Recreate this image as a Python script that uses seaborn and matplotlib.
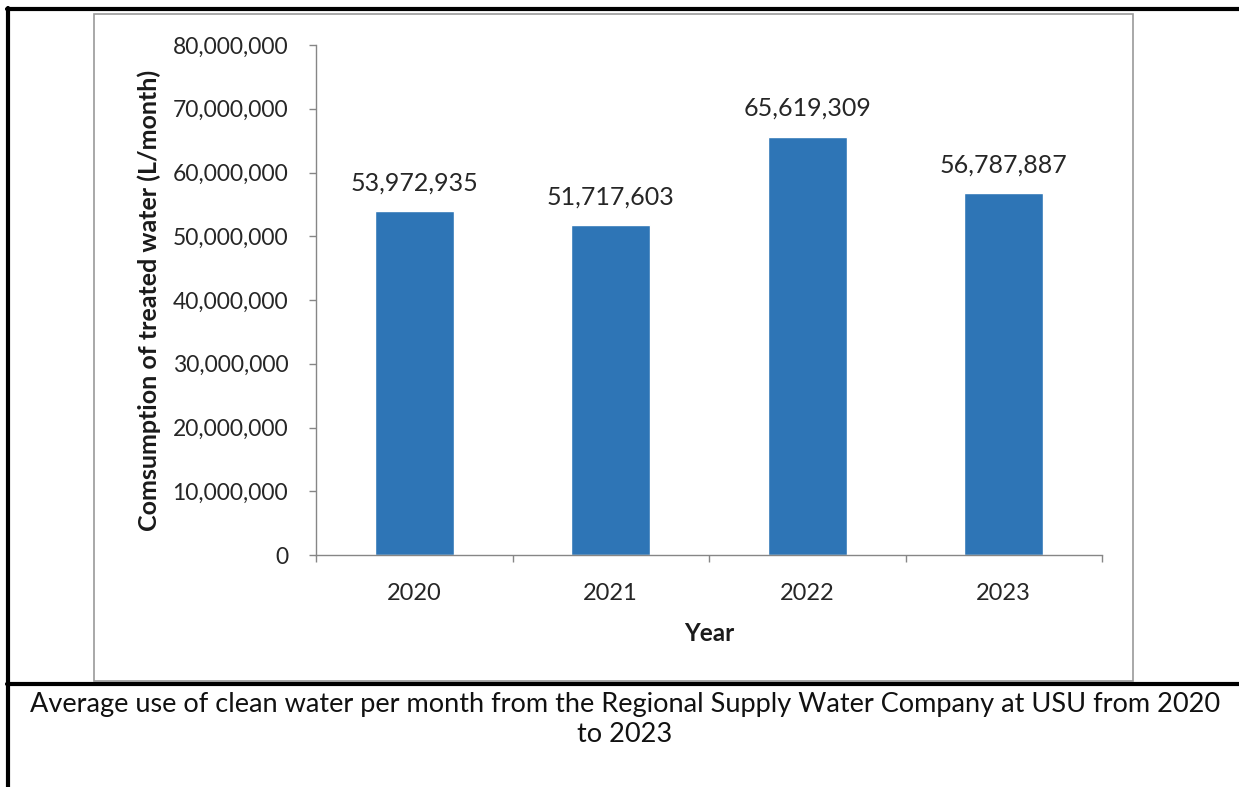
import matplotlib
matplotlib.use("Agg")
import matplotlib.pyplot as plt
import seaborn as sns
import pandas as pd
from matplotlib.lines import Line2D
from matplotlib.patches import Rectangle
from matplotlib.ticker import FuncFormatter, FixedLocator

years = ["2020", "2021", "2022", "2023"]
consumption = [53972935, 51717603, 65619309, 56787887]
y_ticks = [0, 10000000, 20000000, 30000000, 40000000, 50000000, 60000000, 70000000, 80000000]
caption = ("Average use of clean water per month from the Regional Supply Water Company at USU from 2020\n"
           "to 2023")

df = pd.DataFrame({"Year": years, "Consumption": consumption})

sns.set_style("white")
plt.rcParams["font.family"] = ["Lato", "DejaVu Sans"]

W, H = 1239, 787
fig = plt.figure(figsize=(W / 100, H / 100), dpi=100)


def fx(px):
    return px / W


def fy(py):
    return 1 - py / H


ax = fig.add_axes([fx(316), fy(555), fx(1102 - 316), (555 - 45) / H])

sns.barplot(data=df, x="Year", y="Consumption", color="#2E75B6",
            width=0.4, saturation=1, ax=ax)

ax.set_ylim(0, 80000000)
ax.set_xlim(-0.5, 3.5)
ax.set_yticks(y_ticks)
ax.yaxis.set_major_formatter(FuncFormatter(lambda v, p: f"{int(v):,}"))
ax.xaxis.set_minor_locator(FixedLocator([-0.5, 0.5, 1.5, 2.5, 3.5]))

grey = "#868686"
for s in ["top", "right"]:
    ax.spines[s].set_visible(False)
for s in ["left", "bottom"]:
    ax.spines[s].set_color(grey)
    ax.spines[s].set_linewidth(1)

ax.tick_params(axis="y", which="major", length=5, width=1, color=grey,
               labelsize=16.5, labelcolor="#262626", pad=15, left=True)
ax.tick_params(axis="x", which="major", length=0, labelsize=17,
               labelcolor="#262626", pad=20)
ax.tick_params(axis="x", which="minor", length=5, width=1, color=grey,
               bottom=True)

ax.set_xlabel("Year", fontsize=17.5, fontweight="bold", color="#1a1a1a", labelpad=13)
ax.set_ylabel("Comsumption of treated water (L/month)", fontsize=18,
              fontweight="bold", color="#1a1a1a", labelpad=8)

for i, v in enumerate(consumption):
    ax.annotate(f"{v:,}", (i, v), xytext=(0, 12), textcoords="offset points",
                ha="center", va="bottom", fontsize=18, color="#262626")

# chart area border
fig.add_artist(Rectangle((fx(94), fy(681)), fx(1133 - 94), (681 - 14) / H,
                         transform=fig.transFigure, fill=False,
                         edgecolor="#9a9a9a", linewidth=1.2))

# table frame lines
k = "black"
fig.add_artist(Line2D([fx(7), 1], [fy(9), fy(9)], color=k, linewidth=3,
                      transform=fig.transFigure))
fig.add_artist(Line2D([fx(8), fx(8)], [fy(8), 0], color=k, linewidth=3,
                      transform=fig.transFigure))
fig.add_artist(Line2D([fx(7), 1], [fy(684), fy(684)], color=k, linewidth=3,
                      transform=fig.transFigure))

fig.text(fx(625), fy(692), caption, ha="center", va="top", fontsize=19.5,
         color="#111111", linespacing=1.25)

fig.savefig("out.png", dpi=100)
